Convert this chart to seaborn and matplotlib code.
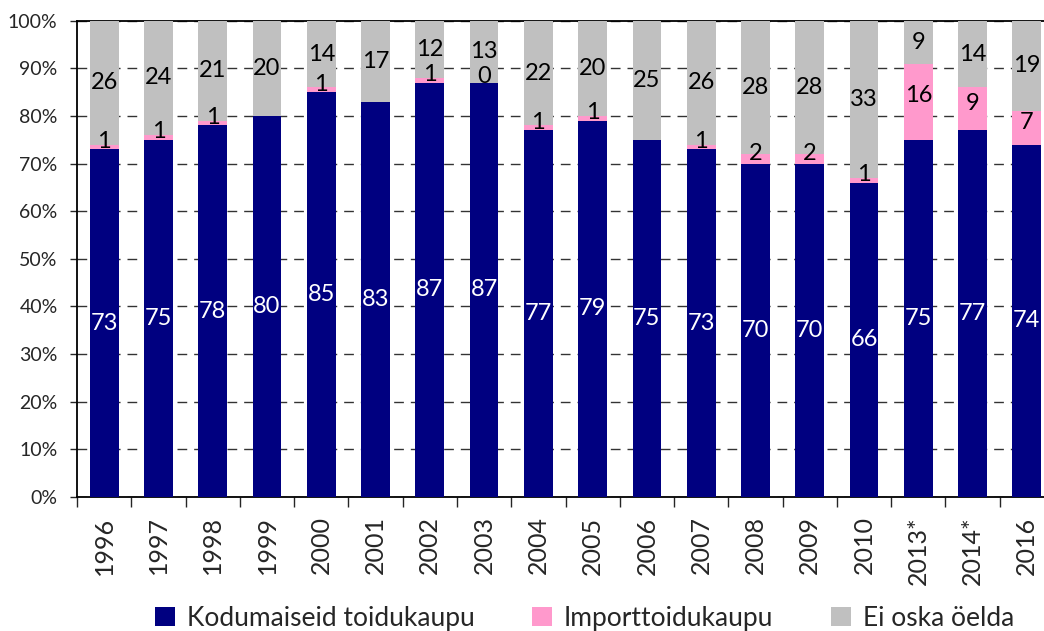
import numpy as np
import pandas as pd
import seaborn as sns
import matplotlib.pyplot as plt
from matplotlib.patches import Patch
from matplotlib.ticker import FixedLocator, PercentFormatter

years = ["1996", "1997", "1998", "1999", "2000", "2001", "2002", "2003", "2004",
         "2005", "2006", "2007", "2008", "2009", "2010", "2013*", "2014*", "2016"]
domestic = [73, 75, 78, 80, 85, 83, 87, 87, 77, 79, 75, 73, 70, 70, 66, 75, 77, 74]
# NaN = no import share reported for that year
imported = [1, 1, 1, np.nan, 1, np.nan, 1, 0, 1, 1, np.nan, 1, 2, 2, 1, 16, 9, 7]
dont_know = [26, 24, 21, 20, 14, 17, 12, 13, 22, 20, 25, 26, 28, 28, 33, 9, 14, 19]

series_names = ["Kodumaiseid toidukaupu", "Importtoidukaupu", "Ei oska öelda"]
colors = ["#000080", "#FF99CC", "#C0C0C0"]

df = pd.DataFrame({"year": years, "dom": domestic, "imp": imported, "dk": dont_know})
df["imp0"] = df["imp"].fillna(0)
total = df["dom"] + df["imp0"] + df["dk"]
df["dom_pct"] = df["dom"] / total * 100
df["imp_pct"] = df["imp0"] / total * 100
df["dk_pct"] = df["dk"] / total * 100
df["top_dom"] = df["dom_pct"]
df["top_imp"] = df["dom_pct"] + df["imp_pct"]
df["top_all"] = df["top_imp"] + df["dk_pct"]

sns.set_style("white")
plt.rcParams["font.family"] = ["Lato", "DejaVu Sans"]

fig = plt.figure(figsize=(10.44, 6.31), dpi=100)
ax = fig.add_axes([77 / 1044, 1 - 497 / 631, (1054 - 77) / 1044, (497 - 20.7) / 631])

bw = 0.53
# stacked bars drawn from the tallest layer down
sns.barplot(data=df, x="year", y="top_all", color=colors[2], saturation=1, width=bw, ax=ax)
sns.barplot(data=df, x="year", y="top_imp", color=colors[1], saturation=1, width=bw, ax=ax)
sns.barplot(data=df, x="year", y="top_dom", color=colors[0], saturation=1, width=bw, ax=ax)
for p in ax.patches:
    p.set_zorder(3)
    p.set_linewidth(0)

lfs = 17
for i, row in df.iterrows():
    ax.text(i, row["dom_pct"] / 2, f"{row['dom']:.0f}", ha="center", va="center",
            color="white", fontsize=lfs, zorder=5)
    if not np.isnan(row["imp"]):
        ax.text(i, row["dom_pct"] + row["imp_pct"] / 2 + 1.2, f"{row['imp']:.0f}",
                ha="center", va="center", color="black", fontsize=lfs, zorder=5)
    ax.text(i, row["top_imp"] + row["dk_pct"] / 2, f"{row['dk']:.0f}", ha="center",
            va="center", color="black", fontsize=lfs, zorder=5)

ax.set_xlim(-0.5, len(years) - 0.5)
ax.set_ylim(0, 100)
ax.set_yticks(np.arange(0, 101, 10))
ax.yaxis.set_major_formatter(PercentFormatter(decimals=0))
ax.set_xlabel("")
ax.set_ylabel("")

ax.yaxis.grid(True, color="#333333", linestyle=(0, (7, 5)), linewidth=1)
ax.set_axisbelow(True)
for s in ["left", "bottom", "top", "right"]:
    ax.spines[s].set_visible(True)
    ax.spines[s].set_color("black")
    ax.spines[s].set_linewidth(1.3)

ax.tick_params(axis="y", length=5, width=1, direction="out", left=True, pad=9, labelsize=14)
ax.tick_params(axis="x", which="major", length=0, pad=14, labelsize=18, rotation=90)
ax.xaxis.set_minor_locator(FixedLocator(np.arange(-0.5, len(years), 1)))
ax.tick_params(axis="x", which="minor", length=7, width=1, direction="out", bottom=True)

handles = [Patch(facecolor=c, edgecolor="none") for c in colors]
fig.legend(handles, series_names, loc="center", bbox_to_anchor=(0.56, 0.02), ncol=3,
           frameon=False, fontsize=19, handlelength=0.75, handleheight=0.75,
           handletextpad=0.45, columnspacing=2.2)

fig.savefig("out.png", dpi=100)
